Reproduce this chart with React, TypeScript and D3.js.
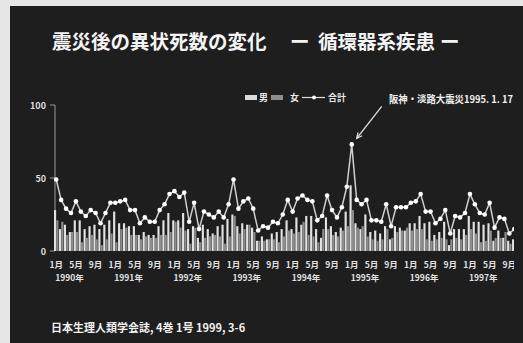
import React from "react";
import * as d3 from "d3";

// Monthly abnormal deaths from circulatory disease, Jan 1990 – Oct 1997
const male: number[] = [
  28, 15, 18, 13, 21, 21, 15, 17, 18, 15, 18, 21,
  27, 19, 19, 17, 17, 11, 13, 11, 11, 17, 21, 26,
  21, 21, 26, 15, 17, 9, 18, 15, 12, 17, 18, 22,
  25, 17, 19, 18, 16, 7, 10, 8, 12, 13, 15, 21,
  15, 23, 18, 24, 24, 15, 9, 23, 17, 13, 16, 27,
  45, 19, 15, 25, 13, 14, 12, 17, 8, 17, 16, 14,
  19, 19, 24, 19, 20, 11, 13, 20, 4, 15, 15, 15,
  24, 20, 20, 18, 19, 7, 14, 9, 7, 8,
];
const female: number[] = [
  21, 20, 11, 13, 13, 6, 9, 11, 8, 4, 8, 12,
  6, 15, 16, 11, 11, 8, 10, 9, 9, 11, 11, 13,
  20, 16, 14, 5, 16, 6, 9, 10, 11, 10, 5, 10,
  24, 12, 15, 18, 13, 7, 7, 8, 8, 6, 10, 14,
  12, 13, 20, 11, 10, 6, 15, 15, 11, 10, 14, 17,
  28, 16, 17, 10, 8, 7, 8, 15, 9, 13, 14, 16,
  14, 15, 15, 8, 7, 8, 9, 8, 8, 9, 8, 11,
  15, 12, 6, 7, 14, 9, 9, 13, 5, 7,
];
const years: string[] = ["1990年", "1991年", "1992年", "1993年", "1994年", "1995年", "1996年", "1997年"];
const monthTickLabels: string[] = ["1月", "5月", "9月"];
const yTicks: number[] = [0, 50, 100];
const quakeIndex = 12 * 5; // January 1995
const quakeLabel = "阪神・淡路大震災1995. 1. 17";

const W = 523;
const H = 343;
const FONT = "'Noto Sans CJK JP', 'Noto Sans', sans-serif";

export default function App() {
  const n = male.length;
  const idx = d3.range(n);
  const total = idx.map((i) => male[i] + female[i]);

  const x = d3.scaleBand<number>().domain(idx).range([54, 54 + n * 4.92]).paddingInner(0.1);
  const sex = d3.scaleBand<string>().domain(["m", "f"]).range([0, x.bandwidth()]).paddingInner(0.06);
  const y = d3.scaleLinear().domain([0, 100]).range([251, 105]);
  const cx = (i: number) => (x(i) as number) + x.bandwidth() / 2;

  const line = d3
    .line<number>()
    .x((_, i) => cx(i))
    .y((d) => y(d));

  const monthTicks = idx.filter((i) => i % 4 === 0);
  const step = x.step();

  // arrow towards the January 1995 peak
  const px = cx(quakeIndex);
  const py = y(total[quakeIndex]);
  const ax0 = px + 30, ay0 = py - 38;
  const ax1 = px + 5, ay1 = py - 6;
  const ang = Math.atan2(ay1 - ay0, ax1 - ax0);
  const head = 6;

  return (
    <svg
      width={W}
      height={H}
      style={{ position: "fixed", left: 0, top: 0, display: "block" }}
      fontFamily={FONT}
    >
      <defs>
        <clipPath id="cut">
          <rect x={0} y={0} width={514} height={H} />
        </clipPath>
      </defs>
      <rect x={0} y={0} width={W} height={H} fill="#e6e6e6" />
      <rect x={10} y={6} width={W - 10} height={H - 6} fill="#1e1e1e" />

      <g clipPath="url(#cut)">
        {/* title */}
        <g fill="#f4f4f4" fontWeight={700} fontSize={19.5}>
          <text x={52} y={49}>震災後の異状死数の変化</text>
          <text x={290} y={49}>ー</text>
          <text x={318} y={49}>循環器系疾患</text>
          <text x={440} y={49}>ー</text>
        </g>

        {/* legend */}
        <g fontSize={9} fontWeight={700} fill="#e8e8e8">
          <rect x={245} y={95} width={12} height={5} fill="#dcdcdc" />
          <text x={259} y={101}>男</text>
          <rect x={271} y={95} width={12} height={5} fill="#8e8e8e" />
          <text x={290} y={101}>女</text>
          <line x1={302} x2={325} y1={97.5} y2={97.5} stroke="#dcdcdc" strokeWidth={1.2} />
          <circle cx={314} cy={97.5} r={2} fill="#ffffff" />
          <text x={328} y={101}>合計</text>
        </g>

        {/* annotation */}
        <text
          x={389}
          y={103}
          fontSize={9.8}
          fontWeight={700}
          fill="#f0f0f0"
          textLength={124}
          lengthAdjust="spacingAndGlyphs"
        >
          {quakeLabel}
        </text>
        <g stroke="#e0e0e0" strokeWidth={1.3} fill="none">
          <line x1={ax0} y1={ay0} x2={ax1} y2={ay1} />
          <polyline
            points={`${ax1 - head * Math.cos(ang - 0.45)},${ay1 - head * Math.sin(ang - 0.45)} ${ax1},${ay1} ${
              ax1 - head * Math.cos(ang + 0.45)
            },${ay1 - head * Math.sin(ang + 0.45)}`}
          />
        </g>

        {/* y axis */}
        <line x1={55} x2={55} y1={y(100)} y2={y(0)} stroke="#9a9a9a" strokeWidth={1} />
        {yTicks.map((t) => (
          <g key={t}>
            <line x1={50} x2={55} y1={y(t)} y2={y(t)} stroke="#9a9a9a" strokeWidth={1} />
            <text x={46} y={y(t) + 3.5} textAnchor="end" fontSize={9} fontWeight={700} fill="#dddddd">
              {t}
            </text>
          </g>
        ))}

        {/* bars */}
        {idx.map((i) => (
          <g key={i}>
            <rect
              x={(x(i) as number) + (sex("m") as number)}
              y={y(male[i])}
              width={sex.bandwidth()}
              height={y(0) - y(male[i])}
              fill="#e2e2e2"
            />
            <rect
              x={(x(i) as number) + (sex("f") as number)}
              y={y(female[i])}
              width={sex.bandwidth()}
              height={y(0) - y(female[i])}
              fill="#8e8e8e"
            />
          </g>
        ))}

        {/* total line */}
        <path d={line(total) ?? ""} fill="none" stroke="#cfcfcf" strokeWidth={1.5} />
        {total.map((t, i) => (
          <circle key={i} cx={cx(i)} cy={y(t)} r={2.3} fill="#ffffff" />
        ))}

        {/* x axis labels */}
        <g fontSize={8.5} fontWeight={700} fill="#e2e2e2" textAnchor="middle">
          {monthTicks.map((i) => (
            <text key={i} x={cx(i)} y={268}>
              {monthTickLabels[(i % 12) / 4]}
            </text>
          ))}
          {years.map((yr, k) => (
            <text key={yr} x={cx(0) + (12 * k + 2.7) * step} y={281}>
              {yr}
            </text>
          ))}
        </g>

        {/* source */}
        <text x={51} y={332} fontSize={11} fontWeight={700} fill="#f0f0f0">
          日本生理人類学会誌, 4巻 1号 1999, 3-6
        </text>
      </g>
    </svg>
  );
}
